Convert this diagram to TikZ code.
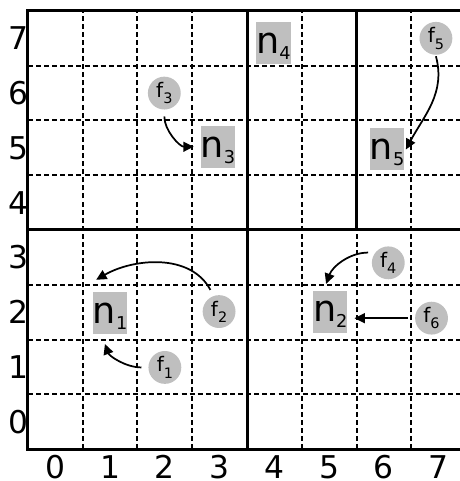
\documentclass[tikz,border=0pt]{standalone}
\usepackage{fontspec}
\setmainfont{DejaVu Sans}
\usetikzlibrary{arrows.meta}
\newcommand{\nlab}[1]{{\fontsize{19}{21}\selectfont n}\raisebox{-3.1pt}{\fontsize{9.2}{10}\selectfont #1}}
\newcommand{\flab}[1]{{\fontsize{10.4}{12}\selectfont f}\raisebox{-3.3pt}{\fontsize{7.5}{8}\selectfont #1}}

\begin{document}
\begin{tikzpicture}[>={Triangle[length=1.9mm,width=1.8mm]},every node/.style={font=\fontsize{16.3}{18}\selectfont},line width=1.56pt,
  grid/.style={line width=1.04pt,dash pattern=on 2.6pt off 1.6pt},
  nbox/.style={fill=gray!50,minimum width=0.585cm,text height=0.572cm,text depth=0.195cm,inner sep=0pt},
  fdot/.style={circle,fill=gray!50,minimum size=0.6cm,inner sep=0pt},
  link/.style={->,line width=0.9pt,shorten <=1mm,shorten >=1mm}]
\useasboundingbox (-1.011,-1.084) rectangle (7.372,7.70);
% dashed cell lines
\draw[grid] (0.5,-0.5)--(0.5,7.5);
\draw[grid] (1.5,-0.5)--(1.5,7.5);
\draw[grid] (2.5,-0.5)--(2.5,7.5);
\draw[grid] (4.5,-0.5)--(4.5,7.5);
\draw[grid] (5.5,-0.5)--(5.5,3.5);
\draw[grid] (6.5,-0.5)--(6.5,7.5);
\draw[grid] (-0.5,0.5)--(7.5,0.5);
\draw[grid] (-0.5,1.5)--(7.5,1.5);
\draw[grid] (-0.5,2.5)--(7.5,2.5);
\draw[grid] (-0.5,4.5)--(7.5,4.5);
\draw[grid] (-0.5,5.5)--(7.5,5.5);
\draw[grid] (-0.5,6.5)--(7.5,6.5);
% block borders
\draw[] (-0.5,-0.5) rectangle (7.5,7.5);
\draw[] (3.5,-0.5)--(3.5,7.5);
\draw[] (-0.5,3.5)--(7.5,3.5);
\draw[] (5.5,3.5)--(5.5,7.5);
% row and column numbers
\node (r0) at (-0.67,0) {0};
\node (r1) at (-0.67,1) {1};
\node (r2) at (-0.67,2) {2};
\node (r3) at (-0.67,3) {3};
\node (r4) at (-0.67,4) {4};
\node (r5) at (-0.67,5) {5};
\node (r6) at (-0.67,6) {6};
\node (r7) at (-0.67,7) {7};
\node[inner sep=0pt] (c0) at (0,-0.83) {0};
\node[inner sep=0pt] (c1) at (1,-0.83) {1};
\node[inner sep=0pt] (c2) at (2,-0.83) {2};
\node[inner sep=0pt] (c3) at (3,-0.83) {3};
\node[inner sep=0pt] (c4) at (4,-0.83) {4};
\node[inner sep=0pt] (c5) at (5,-0.83) {5};
\node[inner sep=0pt] (c6) at (6,-0.83) {6};
\node[inner sep=0pt] (c7) at (7,-0.83) {7};
% n boxes
\node[nbox] (n1) at (1,1.98) {\nlab{1}};
\node[nbox] (n2) at (5.02,2.01) {\nlab{2}};
\node[nbox] (n3) at (2.97,5.02) {\nlab{3}};
\node[nbox] (n4) at (3.98,6.92) {\nlab{4}};
\node[nbox] (n5) at (6.06,4.97) {\nlab{5}};
% f dots
\node[fdot] (f1) at (2,0.99) {\flab{1}};
\node[fdot] (f2) at (2.99,2.01) {\flab{2}};
\node[fdot] (f3) at (1.99,6) {\flab{3}};
\node[fdot] (f4) at (6.08,2.9) {\flab{4}};
\node[fdot] (f5) at (6.95,7) {\flab{5}};
\node[fdot] (f6) at (6.87,1.89) {\flab{6}};
% arrows
\draw[link,shorten >=1.6mm] (f1.west) to[out=180,in=-70] (n1.-110);
\draw[link] (f2.110) to[out=118,in=30] ([yshift=1.5mm]n1.north west);
\draw[link] (f3.south) to[out=-90,in=180] (n3.west);
\draw[link] (f4.145) to[out=180,in=70] (n2.105);
\draw[link,shorten <=0pt,shorten >=0pt] (f5.south) to[out=-75,in=62] (n5.east);
\draw[link] (f6.west)--(f6.west -| n2.east);
\end{tikzpicture}
\end{document}
